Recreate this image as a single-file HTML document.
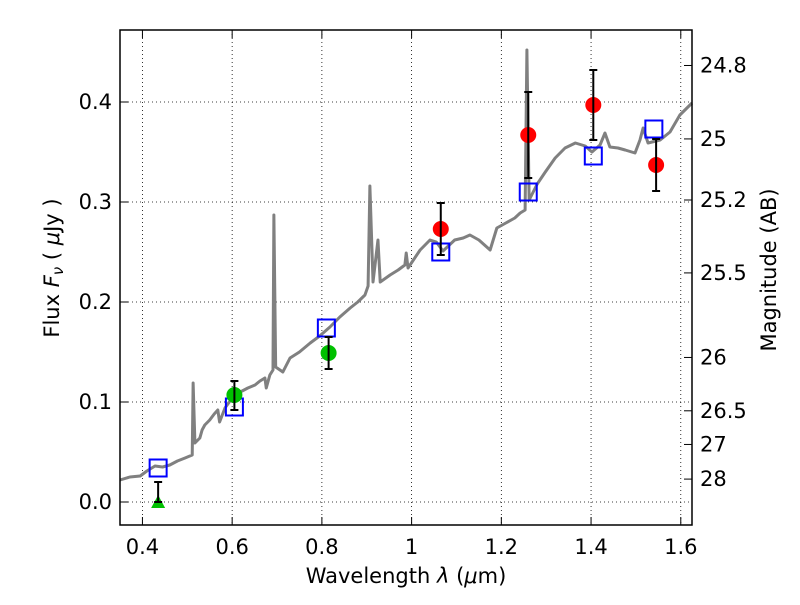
<!DOCTYPE html>
<html><head><meta charset="utf-8"><style>
body{margin:0;background:#fff;}
svg{font-family:"DejaVu Sans","Liberation Sans",sans-serif;}
</style></head><body>
<svg id="chart" width="800" height="600" viewBox="0 0 800 600" xmlns="http://www.w3.org/2000/svg"></svg>
<script>
const xTicks=[0.4,0.6,0.8,1.0,1.2,1.4,1.6];
const xTickLabels=["0.4","0.6","0.8","1","1.2","1.4","1.6"];
const yTicks=[0,0.1,0.2,0.3,0.4];
const yTickLabels=["0.0","0.1","0.2","0.3","0.4"];
const magTicks=[24.8,25,25.2,25.5,26,26.5,27,28];
const magTickLabels=["24.8","25","25.2","25.5","26","26.5","27","28"];
const specX=[0.35,0.372,0.395,0.41,0.428,0.445,0.461,0.478,0.495,0.511,0.513,0.517,0.528,0.533,0.539,0.55,0.56,0.568,0.572,0.584,0.6,0.618,0.635,0.651,0.662,0.673,0.676,0.684,0.691,0.693,0.697,0.713,0.729,0.75,0.774,0.795,0.818,0.84,0.863,0.88,0.896,0.903,0.907,0.914,0.925,0.93,0.952,0.97,0.985,0.988,0.992,1.019,1.041,1.055,1.07,1.096,1.115,1.13,1.15,1.175,1.19,1.21,1.23,1.242,1.253,1.257,1.262,1.28,1.298,1.32,1.342,1.365,1.387,1.402,1.42,1.431,1.442,1.46,1.476,1.498,1.509,1.516,1.527,1.554,1.576,1.598,1.625];
const specY=[0.022,0.025,0.026,0.031,0.036,0.035,0.037,0.041,0.044,0.047,0.119,0.059,0.064,0.072,0.077,0.082,0.088,0.092,0.080,0.094,0.104,0.110,0.114,0.117,0.121,0.124,0.114,0.127,0.132,0.287,0.135,0.130,0.144,0.150,0.159,0.166,0.175,0.185,0.194,0.200,0.207,0.216,0.316,0.220,0.262,0.220,0.227,0.232,0.237,0.249,0.234,0.252,0.262,0.26,0.251,0.262,0.264,0.267,0.262,0.252,0.274,0.279,0.284,0.289,0.292,0.452,0.302,0.318,0.33,0.344,0.354,0.359,0.356,0.35,0.357,0.369,0.355,0.354,0.352,0.349,0.362,0.374,0.359,0.362,0.37,0.387,0.399];
const modelX=[0.435,0.605,0.81,1.065,1.26,1.405,1.54];
const modelY=[0.034,0.095,0.174,0.25,0.31,0.346,0.373];
const redX=[1.065,1.26,1.405,1.545];
const redY=[0.273,0.367,0.397,0.337];
const redLo=[0.247,0.324,0.362,0.311];
const redHi=[0.299,0.410,0.432,0.363];
const greenX=[0.605,0.815];
const greenY=[0.107,0.149];
const greenLo=[0.092,0.133];
const greenHi=[0.121,0.165];
const limX=[0.435];
const limY=[0.0];
const limHi=[0.02];

const L=120,R=692,T=30,B=525;
const x0=0.35,x1=1.625,y0=-0.023,y1=0.472;
const sx=v=>L+(v-x0)/(x1-x0)*(R-L);
const sy=v=>B-(v-y0)/(y1-y0)*(B-T);
const magToFlux=m=>Math.pow(10,(23.9-m)/2.5);
const svg=document.getElementById('chart');
const NS="http://www.w3.org/2000/svg";
function mk(tag,attrs,parent){const e=document.createElementNS(NS,tag);for(const k in attrs)e.setAttribute(k,attrs[k]);(parent||svg).appendChild(e);return e;}

const grid=mk('g',{});


xTicks.forEach(v=>{mk('line',{x1:sx(v),x2:sx(v),y1:T,y2:B,stroke:'#000','stroke-width':0.8,'stroke-dasharray':'1,3'},grid);});
yTicks.forEach(v=>{mk('line',{x1:L,x2:R,y1:sy(v),y2:sy(v),stroke:'#000','stroke-width':0.8,'stroke-dasharray':'1,3'},grid);});

const sp=mk('polyline',{points:specX.map((v,i)=>sx(v)+','+sy(specY[i])).join(' '),fill:'none',stroke:'#808080','stroke-width':3,'stroke-linejoin':'round'});



function ebar(x,lo,hi,name){const g=mk('g',{stroke:'#000','stroke-width':2});


mk('line',{x1:sx(x),x2:sx(x),y1:sy(lo),y2:sy(hi)},g);
mk('line',{x1:sx(x)-4,x2:sx(x)+4,y1:sy(lo),y2:sy(lo)},g);
mk('line',{x1:sx(x)-4,x2:sx(x)+4,y1:sy(hi),y2:sy(hi)},g);}

modelX.forEach((v,i)=>{const r=mk('rect',{x:sx(v)-8.5,y:sy(modelY[i])-8.5,width:17,height:17,fill:'none',stroke:'#0000ff','stroke-width':2});

});
redX.forEach((v,i)=>{const c=mk('circle',{cx:sx(v),cy:sy(redY[i]),r:8,fill:'#ff0000'});


ebar(v,redLo[i],redHi[i],'red-error-bar');});
greenX.forEach((v,i)=>{const c=mk('circle',{cx:sx(v),cy:sy(greenY[i]),r:8,fill:'#00c000'});


ebar(v,greenLo[i],greenHi[i],'green-error-bar');});
limX.forEach((v,i)=>{const px=sx(v),py=sy(limY[i]);
const t=mk('polygon',{points:`${px-7},${py+6} ${px+7},${py+6} ${px},${py-7}`,fill:'#00c000'});


ebar(v,limY[i],limHi[i],'limit-error-bar');});

const fr=mk('rect',{x:L,y:T,width:R-L,height:B-T,fill:'none',stroke:'#000','stroke-width':1.5});



xTicks.forEach((v,i)=>{mk('line',{x1:sx(v),x2:sx(v),y1:B,y2:B-8,stroke:'#000'});mk('line',{x1:sx(v),x2:sx(v),y1:T,y2:T+8,stroke:'#000'});
const t=mk('text',{x:sx(v),y:B+29,'font-size':21,'text-anchor':'middle'});t.textContent=xTickLabels[i];

});
yTicks.forEach((v,i)=>{mk('line',{x1:L,x2:L+8,y1:sy(v),y2:sy(v),stroke:'#000'});
const t=mk('text',{x:L-8,y:sy(v)+7,'font-size':21,'text-anchor':'end'});t.textContent=yTickLabels[i];

});
magTicks.forEach((m,i)=>{const y=sy(magToFlux(m));mk('line',{x1:R,x2:R-8,y1:y,y2:y,stroke:'#000'});
const t=mk('text',{x:R+8,y:y+7,'font-size':21});t.textContent=magTickLabels[i];

});

const xl=mk('text',{x:406,y:583,'font-size':21,'text-anchor':'middle'});
xl.innerHTML='Wavelength  <tspan font-style="italic">λ</tspan> (<tspan font-style="italic">μ</tspan>m)';


const yl=mk('text',{x:0,y:0,'font-size':21,'text-anchor':'middle',transform:'translate(59,268) rotate(-90)'});
yl.innerHTML='Flux  <tspan font-style="italic">F</tspan><tspan font-style="italic" font-size="15" dy="4">ν</tspan><tspan dy="-4">  ( </tspan><tspan font-style="italic">μ</tspan>Jy )';


const rl=mk('text',{x:0,y:0,'font-size':21,'text-anchor':'middle',transform:'translate(776,270) rotate(-90)'});
rl.textContent='Magnitude (AB)';


</script>
</body></html>
